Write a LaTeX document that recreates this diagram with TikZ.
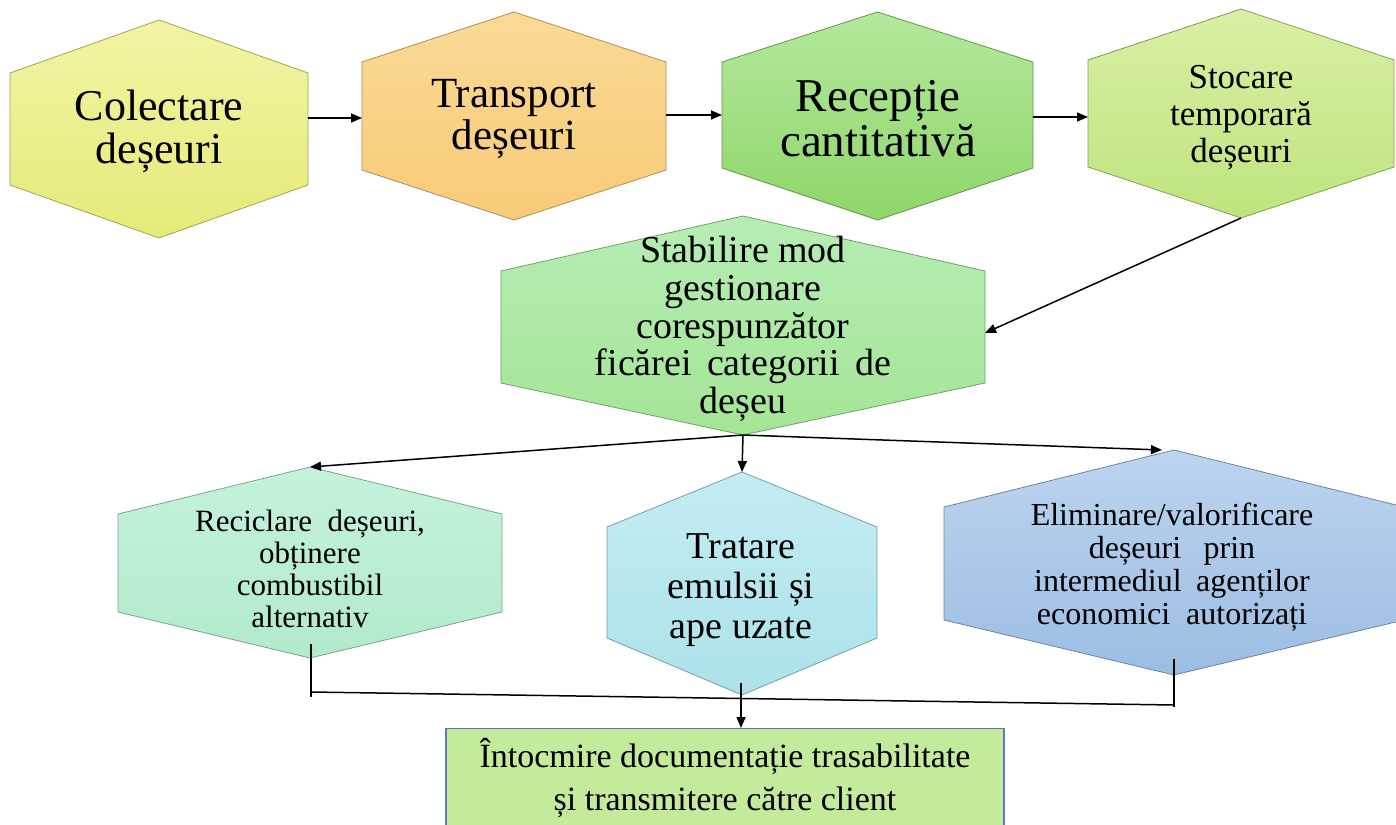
\documentclass[tikz,border=0pt]{standalone}
\usepackage{fontspec}
\setmainfont{Liberation Serif}
\usetikzlibrary{arrows.meta}
\definecolor{colT}{HTML}{F2F4A4}\definecolor{colB}{HTML}{E6EA78}
\definecolor{traT}{HTML}{FBD996}\definecolor{traB}{HTML}{F7CB78}
\definecolor{recT}{HTML}{B4E89C}\definecolor{recB}{HTML}{8ED66A}
\definecolor{stoT}{HTML}{D8F0A4}\definecolor{stoB}{HTML}{BEE47E}
\definecolor{stabT}{HTML}{B6EDB4}\definecolor{stabB}{HTML}{A4E596}
\definecolor{recicT}{HTML}{C4F2DC}\definecolor{recicB}{HTML}{B2EACB}
\definecolor{tratT}{HTML}{C4ECF2}\definecolor{tratB}{HTML}{ACE2EA}
\definecolor{elimT}{HTML}{BCD4EF}\definecolor{elimB}{HTML}{9CBDE3}
\definecolor{docF}{HTML}{C4EB9C}\definecolor{docD}{HTML}{5A7DBA}
\newcommand\hexagon[9]{%
  \path[hexa={#2}{#3}] (#4,#7) -- ({(#4+#5)/2},#6) -- (#5,#7) -- (#5,#8) -- ({(#4+#5)/2},#9) -- (#4,#8) -- cycle;
  \coordinate (#1-top) at ({(#4+#5)/2},#6);
  \coordinate (#1-bot) at ({(#4+#5)/2},#9);
}
\begin{document}
\begin{tikzpicture}[x=0.5pt,y=-0.5pt,
  hexa/.style 2 args={draw=#2!70!black, line width=0.4pt, top color=#1, bottom color=#2},
  conn/.style={draw=black, line width=0.75pt},
  arr/.style={conn, -{Triangle[length=5.5pt,width=4.5pt]}},
  lbl/.style={align=center, inner sep=0pt},
  docbox/.style={draw=docD, line width=0.6pt, fill=docF, anchor=north, minimum width=279pt, minimum height=70pt, inner sep=0pt}
]
\useasboundingbox (0,0) rectangle (1396,824);
\begin{scope}
\clip (0,0) rectangle (1396,824);
\hexagon{col}{colT}{colB}{10}{308}{20}{73}{185}{238}
\hexagon{tra}{traT}{traB}{362}{666}{12}{62}{170}{220}
\hexagon{rec}{recT}{recB}{722}{1033}{12}{62}{168}{220}
\hexagon{sto}{stoT}{stoB}{1088}{1394}{9}{60}{167}{218}
\hexagon{stab}{stabT}{stabB}{501}{985}{216}{271}{383}{435}
\hexagon{recic}{recicT}{recicB}{118}{502}{467}{514}{612}{658}
\hexagon{trat}{tratT}{tratB}{607}{877}{472}{527}{638}{695}
\hexagon{elim}{elimT}{elimB}{944}{1404}{450}{507}{620}{675}
\node[docbox] (doc) at (725,728) {};
\end{scope}

\node[lbl, font=\fontsize{22}{21.5}\selectfont] (col) at (159,131) {Colectare\\deșeuri};
\node[lbl, font=\fontsize{21.5}{21}\selectfont] (tra) at (514,119) {Transport\\deșeuri};
\node[lbl, font=\fontsize{23.5}{22.5}\selectfont] (rec) at (878,119) {Recepție\\cantitativă};
\node[lbl, font=\fontsize{17.5}{18.5}\selectfont] (sto) at (1241,118) {Stocare\\temporară\\deșeuri};
\node[lbl, font=\fontsize{19}{18.8}\selectfont] (stab) at (743,329) {Stabilire mod\\gestionare\\corespunzător\\ficărei\hspace{0.15em} categorii\hspace{0.15em} de\\deșeu};
\node[lbl, font=\fontsize{15.5}{16}\selectfont] (recic) at (310,569) {Reciclare\hspace{0.25em} deșeuri,\\obținere\\combustibil\\alternativ};
\node[lbl, font=\fontsize{19}{20}\selectfont] (trat) at (741,590) {Tratare\\emulsii și\\ape uzate};
\node[lbl, font=\fontsize{16}{16.5}\selectfont] (elim) at (1172,567) {Eliminare/valorificare\\deșeuri\hspace{0.45em} prin\\intermediul\hspace{0.2em} agenților\\economici\hspace{0.25em} autorizați};
\node[lbl, font=\fontsize{17}{21.5}\selectfont] (doctxt) at (725,778) {Întocmire documentație trasabilitate\\și transmitere către client};

% connector end points
\coordinate (col-r) at (308,118);
\coordinate (tra-l) at (362,118);
\coordinate (tra-r) at (666,115);
\coordinate (rec-l) at (722,115);
\coordinate (rec-r) at (1033,117);
\coordinate (sto-l) at (1088,117);
\coordinate (stab-r) at (985,333);
\coordinate (recic-in) at (311,644);
\coordinate (recic-ft) at (311,697);
\coordinate (elim-in) at (1174,659);
\coordinate (elim-ft) at (1174,707);
\coordinate (join-l) at (311,692);
\coordinate (join-r) at (1174,705);
\coordinate (trat-in) at (741,683);

\draw[arr] (col-r) -- (tra-l);
\draw[arr] (tra-r) -- (rec-l);
\draw[arr] (rec-r) -- (sto-l);
\draw[arr] (sto-bot) -- (stab-r);
\draw[arr] (stab-bot) -- (recic-top);
\draw[arr] (stab-bot) -- (trat-top);
\draw[arr] (stab-bot) -- ([xshift=-6]elim-top);
\draw[conn] (recic-in) -- (recic-ft);
\draw[conn] (elim-in) -- (elim-ft);
\draw[conn] (join-l) -- (join-r);
\draw[arr] (trat-in) -- (trat-in |- doc.north);
\end{tikzpicture}
\end{document}
